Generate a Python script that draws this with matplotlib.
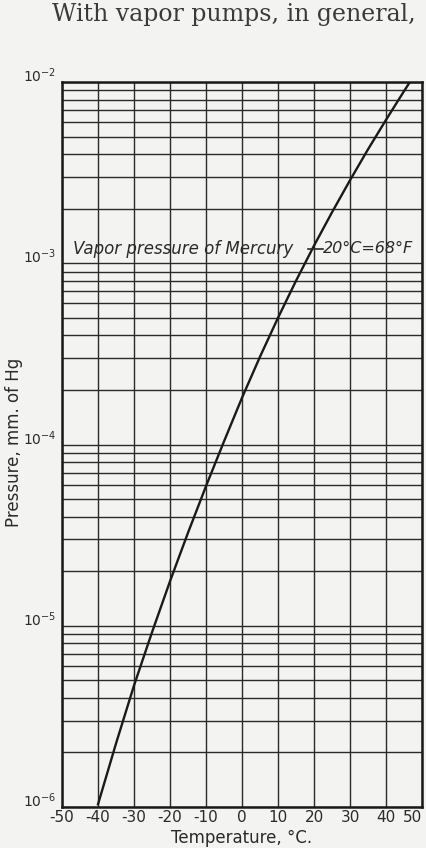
import matplotlib
matplotlib.use("Agg")
import matplotlib.pyplot as plt
from matplotlib.ticker import FixedLocator, LogLocator, NullFormatter

plt.rcParams['axes.unicode_minus'] = False

# Data
temperature_c = [-40, -35, -30, -25, -20, -15, -10, -5, 0, 5, 10, 15, 20, 25, 30, 35, 40, 45, 50]
pressure_mmhg = [1.035e-6, 2.24e-6, 4.68e-6, 9.2e-6, 1.76e-5, 3.26e-5, 5.89e-5, 1.04e-4, 1.81e-4,
                 3.05e-4, 5.0e-4, 8.0e-4, 1.25e-3, 1.91e-3, 2.87e-3, 4.25e-3, 6.18e-3, 8.9e-3, 1.27e-2]
x_ticks = [-50, -40, -30, -20, -10, 0, 10, 20, 30, 40, 50]
y_decades = [1e-6, 1e-5, 1e-4, 1e-3, 1e-2]
y_labels = ["$10^{-6}$", "$10^{-5}$", "$10^{-4}$", "$10^{-3}$", "$10^{-2}$"]
marker_point = (20, 1.2e-3)

bg = '#f3f3f1'
ink = '#2a2a2a'

fig = plt.figure(figsize=(4.26, 8.48), dpi=100, facecolor=bg)
ax = fig.add_axes([62/426, 1-807/848, 360/426, 725/848], facecolor=bg)

ax.set_yscale('log')
ax.set_xlim(-50, 50)
ax.set_ylim(1e-6, 1e-2)

ax.plot(temperature_c, pressure_mmhg, color='#1a1a1a', lw=1.7, clip_on=True)

# grid
ax.xaxis.set_major_locator(FixedLocator(x_ticks))
ax.yaxis.set_major_locator(FixedLocator(y_decades))
ax.yaxis.set_minor_locator(LogLocator(base=10, subs=range(2, 10)))
ax.yaxis.set_minor_formatter(NullFormatter())
ax.grid(True, which='major', axis='x', color=ink, lw=1.0)
ax.grid(True, which='both', axis='y', color=ink, lw=1.0)
ax.set_axisbelow(True)

ax.set_xticklabels([str(t) for t in x_ticks], fontsize=11, color=ink)
ax.set_yticklabels(y_labels, fontsize=10, color=ink)
ax.tick_params(which='both', length=0, pad=2)
ax.tick_params(axis='y', pad=4)
for lbl in ax.get_yticklabels():
    lbl.set_verticalalignment('baseline')
xl = ax.get_xticklabels()
xl[-1].set_horizontalalignment('right')
xl[-1].set_x(51.5)

for s in ax.spines.values():
    s.set_color('#1a1a1a')
    s.set_linewidth(1.8)

ax.set_xlabel("Temperature, °C.", fontsize=12, color=ink, labelpad=3)
ax.set_ylabel("Pressure, mm. of Hg", fontsize=12, color=ink)
ax.yaxis.set_label_coords(-(62-23)/360, 1-(442-82)/725)

# annotations
ax.text(-47, marker_point[1], "Vapor pressure of Mercury", fontsize=12, style='italic',
        color=ink, va='center', ha='left')
ax.plot([marker_point[0]-1.6, marker_point[0]+2.4], [marker_point[1], marker_point[1]],
        color=ink, lw=1.2)
ax.text(marker_point[0]+2.5, marker_point[1], "20°C=68°F", fontsize=11.5, style='italic',
        color=ink, va='center', ha='left')

fig.text(234/426, 1-14/848, "With vapor pumps, in general,", fontsize=17,
         family='DejaVu Serif', color='#3a3a3a', ha='center', va='center')

fig.savefig("out.png", dpi=100, facecolor=bg)
